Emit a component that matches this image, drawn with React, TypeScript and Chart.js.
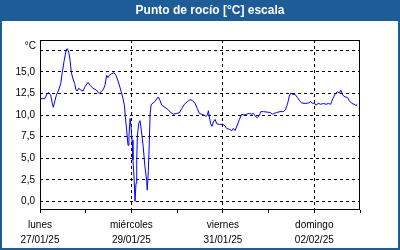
import React, { useEffect, useRef } from "react";
import { Chart, registerables } from "chart.js";

Chart.register(...registerables);

const TITLE = "Punto de rocío [°C] escala";
const DAY_NAMES = ["lunes", "martes", "miércoles", "jueves", "viernes", "sábado", "domingo", "lunes"];
const DAY_DATES = ["27/01/25", "28/01/25", "29/01/25", "30/01/25", "31/01/25", "01/02/25", "02/02/25", "03/02/25"];
const Y_TICKS = [0, 2.5, 5, 7.5, 10, 12.5, 15, 17.5];

// hours since Monday 27/01/25 00:00
const HOURS = [
  0.4, 2.5, 3.8, 4.7, 5.6, 6.5, 7.0, 7.7, 8.6, 9.8, 10.9, 11.6, 12.6, 13.7, 14.3, 15.1, 15.8, 16.4, 17.3, 18.2,
  18.9, 19.6, 20.3, 21.4, 22.6, 23.8, 25.2, 26.3, 27.8, 29.6, 31.0, 32.2, 33.3, 34.1, 35.0, 35.7, 36.4, 37.6, 38.9, 39.9,
  41.1, 42.4, 43.4, 44.3, 44.8, 45.5, 46.2, 46.7, 47.3, 47.8, 48.3, 48.8, 49.4, 49.9, 50.4, 50.8, 51.1, 51.8, 52.5, 53.2,
  54.2, 55.1, 56.0, 56.3, 56.9, 57.4, 57.8, 58.3, 60.4, 62.1, 63.0, 63.9, 65.6, 67.4, 68.6, 70.0, 71.8, 73.1, 74.4, 75.8,
  77.3, 78.8, 80.2, 81.4, 82.6, 83.6, 84.9, 86.1, 87.2, 87.9, 88.4, 88.9, 89.6, 90.3, 91.0, 91.9, 92.8, 94.2, 95.9, 97.1,
  98.0, 99.4, 100.7, 101.5, 102.4, 103.6, 104.7, 105.9, 107.1, 108.5, 109.9, 111.2, 112.0, 113.1, 114.1, 115.2, 115.9, 117.3, 119.0, 120.8,
  122.0, 122.9, 124.3, 126.0, 127.8, 128.8, 129.9, 130.9, 131.6, 132.7, 133.9, 135.1, 136.2, 137.4, 139.2, 140.9, 142.1, 143.2, 144.0, 144.9,
  146.1, 147.4, 148.8, 150.2, 151.4, 152.6, 153.7, 154.9, 156.1, 157.2, 157.9, 159.0, 160.2, 161.4, 162.4, 163.7, 164.9, 165.9, 166.6,
];

const DEW_POINT = [
  11.9, 11.9, 12.5, 12.6, 12.3, 11.3, 10.9, 11.55, 12.3, 12.9, 13.65, 14.8, 16.2, 17.5, 17.7, 17.3, 16.35, 15.0, 14.2, 13.65,
  12.9, 12.8, 13.1, 12.9, 12.8, 13.35, 13.8, 13.45, 13.1, 12.9, 12.5, 12.7, 13.0, 13.45, 14.6, 14.35, 14.6, 14.8, 14.9, 14.6,
  13.85, 12.9, 12.1, 11.15, 9.8, 8.25, 6.5, 7.5, 9.6, 8.65, 7.1, 4.8, 2.65, 0.0, 2.1, 4.8, 7.5, 9.0, 9.35, 8.25,
  6.3, 4.0, 2.45, 1.3, 3.6, 7.1, 10.0, 11.2, 11.6, 12.1, 11.7, 11.15, 10.9, 10.6, 10.3, 10.1, 10.2, 10.25, 10.75, 11.25,
  11.55, 11.8, 11.65, 11.35, 10.75, 10.2, 10.1, 10.0, 9.85, 10.0, 10.5, 9.8, 9.0, 8.7, 9.2, 9.5, 9.0, 8.9, 8.95, 8.75,
  8.45, 8.35, 8.2, 8.45, 8.2, 8.85, 9.5, 10.1, 10.0, 10.1, 10.2, 10.1, 10.2, 9.85, 9.7, 10.0, 10.4, 10.4, 10.35, 10.3,
  10.1, 10.2, 10.3, 10.4, 10.4, 10.6, 11.25, 12.2, 12.55, 12.4, 12.4, 12.05, 11.7, 11.4, 11.35, 11.4, 11.55, 11.35, 11.4, 11.15,
  11.35, 11.25, 11.35, 11.25, 11.35, 11.25, 11.9, 12.4, 12.7, 12.55, 12.9, 12.3, 12.1, 12.05, 11.65, 11.35, 11.25, 11.1, 11.25,
];

const BLUE = "#1d5c97";
const FONT = "'Liberation Sans', Arial, sans-serif";

const framePlugin = {
  id: "frame",
  beforeDraw(chart: any) {
    const { ctx, width, height } = chart;
    ctx.save();
    ctx.fillStyle = BLUE;
    ctx.fillRect(0, 0, width, height);
    ctx.fillStyle = "#ffffff";
    ctx.fillRect(2, 21, width - 4, height - 23);
    ctx.fillStyle = "#ffffff";
    ctx.font = `bold 12px ${FONT}`;
    ctx.textAlign = "center";
    ctx.textBaseline = "middle";
    ctx.fillText(TITLE, 210, 10.5);
    ctx.restore();
  },
  afterDraw(chart: any) {
    const { ctx, chartArea } = chart;
    ctx.save();
    ctx.strokeStyle = "#000000";
    ctx.lineWidth = 1;
    ctx.setLineDash([]);
    ctx.strokeRect(chartArea.left + 0.5, chartArea.top + 0.5, chartArea.right - chartArea.left - 1, chartArea.bottom - chartArea.top - 1);
    ctx.fillStyle = "#000000";
    ctx.font = `10px ${FONT}`;
    ctx.textAlign = "right";
    ctx.textBaseline = "middle";
    const y = chart.scales.y.getPixelForValue(Y_TICKS[Y_TICKS.length - 1]);
    ctx.fillText("°C", 36, y - 4);
    ctx.restore();
  },
};

export default function App() {
  const ref = useRef<HTMLCanvasElement | null>(null);
  useEffect(() => {
    if (!ref.current) return;
    const points = HOURS.map((h, i) => ({ x: h, y: DEW_POINT[i] }));
    const chart = new Chart(ref.current, {
      type: "line",
      data: {
        datasets: [
          {
            data: points,
            borderColor: "#0000ff",
            borderWidth: 1,
            pointRadius: 0,
            tension: 0,
            fill: false,
          },
        ],
      },
      options: {
        animation: false,
        responsive: false,
        maintainAspectRatio: false,
        events: [],
        layout: { padding: { left: 0, right: 40, top: 40, bottom: 0 } },
        plugins: { legend: { display: false }, tooltip: { enabled: false }, title: { display: false } },
        scales: {
          x: {
            type: "linear",
            min: 0,
            max: 168,
            afterFit: (s: any) => {
              s.height = 40;
            },
            afterBuildTicks: (s: any) => {
              s.ticks = [0, 24, 48, 72, 96, 120, 144, 168].map((v) => ({ value: v }));
            },
            ticks: {
              autoSkip: false,
              maxRotation: 0,
              padding: 5,
              color: "#000000",
              font: { family: FONT, size: 10, lineHeight: 1.5 },
              callback: (v: any) => {
                const d = Math.round(Number(v) / 24);
                if (d % 2 === 0 && d < 7) return [DAY_NAMES[d], DAY_DATES[d]];
                return "";
              },
            },
            grid: {
              drawOnChartArea: true,
              drawTicks: true,
              tickLength: 3,
              tickColor: "#000000",
              tickBorderDash: [],
              lineWidth: 1,
              color: (c: any) => {
                const v = c.tick ? c.tick.value : 0;
                return v > 0 && v < 168 && v % 48 === 0 ? "#000000" : "rgba(0,0,0,0)";
              },
            },
            border: { display: false, dash: [3, 3] },
          },
          y: {
            type: "linear",
            min: -1.0,
            max: 18.7,
            afterFit: (s: any) => {
              s.width = 40;
            },
            afterBuildTicks: (s: any) => {
              s.ticks = Y_TICKS.map((v) => ({ value: v }));
            },
            ticks: {
              padding: 5,
              color: "#000000",
              font: { family: FONT, size: 10 },
              callback: (v: any) => (Number(v) >= 17.5 ? "" : Number(v).toFixed(1).replace(".", ",")),
            },
            grid: {
              drawTicks: false,
              color: "#000000",
              lineWidth: 1,
            },
            border: { display: false, dash: [3, 3] },
          },
        },
      },
      plugins: [framePlugin],
    });
    return () => chart.destroy();
  }, []);
  return (
    <div style={{ position: "fixed", left: 0, top: 0, width: 400, height: 250 }}>
      <canvas ref={ref} width={400} height={250} style={{ width: 400, height: 250, display: "block" }} />
    </div>
  );
}
